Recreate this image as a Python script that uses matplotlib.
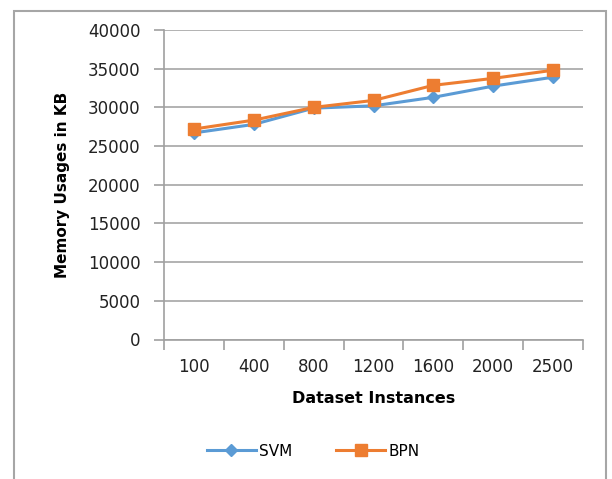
import matplotlib
matplotlib.use("Agg")
import matplotlib.pyplot as plt
from matplotlib.patches import Rectangle

categories = ["100", "400", "800", "1200", "1600", "2000", "2500"]
svm = [26700, 27800, 29900, 30200, 31300, 32750, 33900]
bpn = [27200, 28350, 30000, 30900, 32850, 33750, 34800]
yticks = [0, 5000, 10000, 15000, 20000, 25000, 30000, 35000, 40000]

W, H = 612, 479
fig = plt.figure(figsize=(W / 100, H / 100), dpi=100)

# outer chart frame
fig.patches.append(Rectangle((14 / W, -0.05), (606 - 14) / W, (H - 11) / H + 0.05,
                             transform=fig.transFigure, fill=False,
                             edgecolor="#A6A6A6", linewidth=1.5))

left, right, top, bottom = 164, 583, 30, 339.5
ax = fig.add_axes([left / W, 1 - bottom / H, (right - left) / W, (bottom - top) / H])

x = list(range(len(categories)))
blue = "#5B9BD5"
orange = "#ED7D31"
ax.plot(x, svm, color=blue, linewidth=2.2, marker="D", markersize=6, label="SVM")
ax.plot(x, bpn, color=orange, linewidth=2.2, marker="s", markersize=8, label="BPN")

ax.set_xlim(-0.5, len(categories) - 0.5)
ax.set_ylim(0, 40000)
ax.set_yticks(yticks)
ax.set_yticklabels([str(v) for v in yticks], fontsize=12, color="#222222")
ax.set_xticks(x)
ax.set_xticklabels(categories, fontsize=12, color="#222222")
ax.tick_params(axis="x", length=0, pad=13)
ax.tick_params(axis="y", length=7, width=1.2, color="#A0A0A0", pad=10)
# x tick marks at category boundaries
ax.set_xticks([i - 0.5 for i in range(len(categories) + 1)], minor=True)
ax.tick_params(axis="x", which="minor", length=7, width=1.2, color="#A0A0A0")
ax.grid(axis="y", color="#A6A6A6", linewidth=1.2)
ax.set_axisbelow(True)
for s in ["top", "right"]:
    ax.spines[s].set_visible(False)
for s in ["left", "bottom"]:
    ax.spines[s].set_color("#A0A0A0")
    ax.spines[s].set_linewidth(1.2)

ax.set_xlabel("Dataset Instances", fontsize=11.5, fontweight="bold", labelpad=11)
ax.set_ylabel("Memory Usages in KB", fontsize=11, fontweight="bold", labelpad=13)

fig.legend(loc="center", bbox_to_anchor=(313 / W, 1 - 451 / H), ncol=2, frameon=False,
           fontsize=11, handlelength=3.2, columnspacing=2.9, handletextpad=0.2)

fig.savefig("out.png", dpi=100)
